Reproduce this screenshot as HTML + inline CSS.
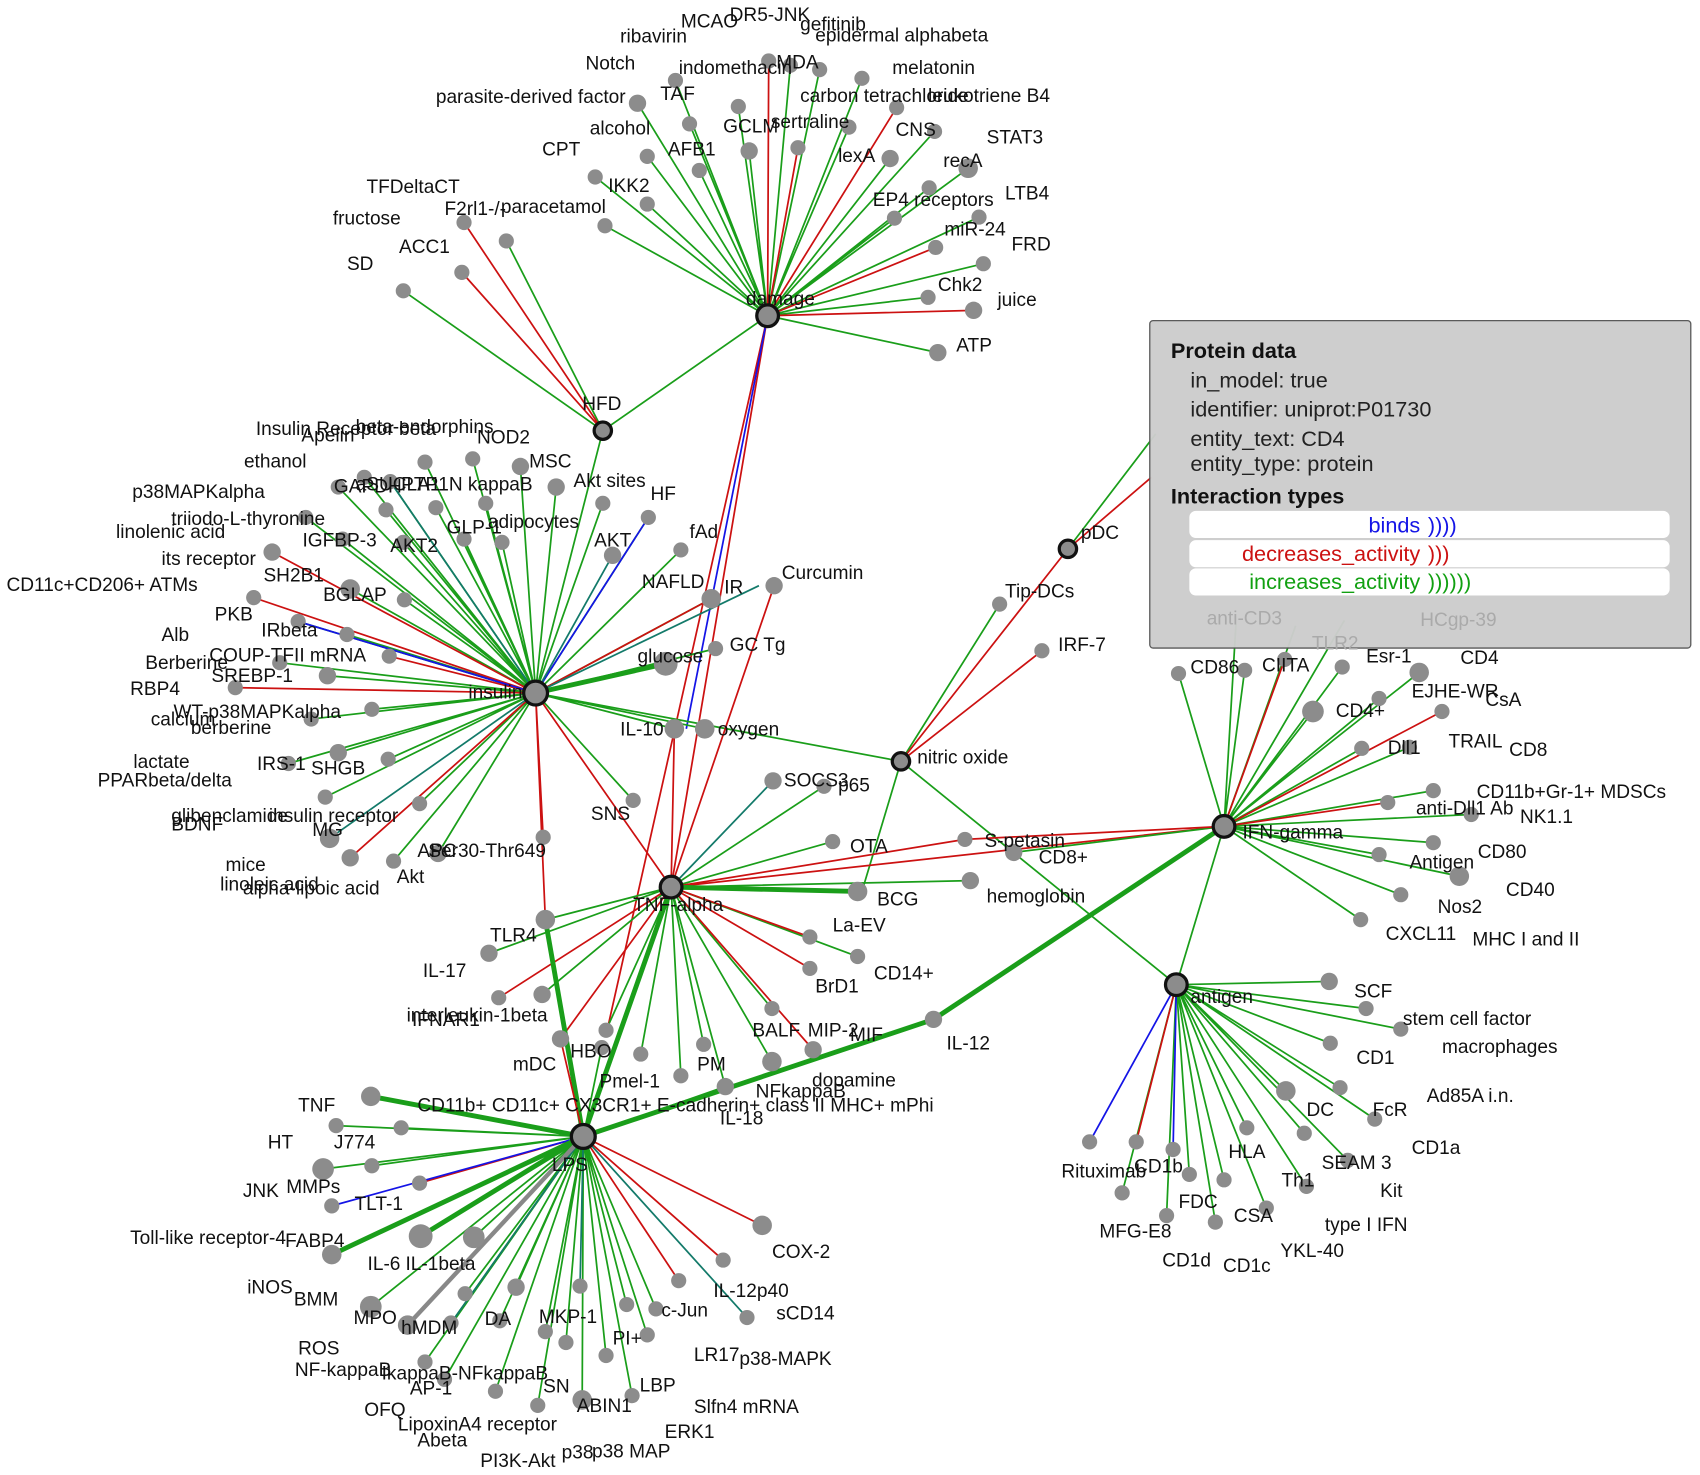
<!DOCTYPE html>
<html><head><meta charset="utf-8"><style>
html,body{margin:0;padding:0;background:#fff;}
svg{display:block;}
text{font-family:"Liberation Sans",Arial,sans-serif;font-size:17.6px;fill:#111;}
.g{stroke:#1a9e1a;stroke-width:1.6;fill:none}
.r{stroke:#cc1111;stroke-width:1.6;fill:none}
.b{stroke:#1414e6;stroke-width:1.6;fill:none}
.t{stroke:#137a6a;stroke-width:1.6;fill:none}
.G{stroke:#1a9e1a;stroke-width:4.5;fill:none}
.n circle{fill:#8c8c8c}
.h circle{fill:#8c8c8c;stroke:#111;stroke-width:3}
</style></head><body>
<svg width="1700" height="1475" viewBox="0 0 1568 1360" xmlns="http://www.w3.org/2000/svg">
<path class="g" d="M708 291L558 208M708 291L549 163M708 291L597 188M708 291L597 144M708 291L645 157M708 291L636 114M708 291L588 95M708 291L623 74M708 291L681 98M708 291L691 139M708 291L756 64M708 291L783 117M708 291L795 72M708 291L821 146M708 291L862 121M708 291L893 155M708 291L857 173M708 291L825 201M708 291L903 200M708 291L907 243M708 291L856 274M708 291L865 325M708 291L556 397M708 291L729 60"/>
<path class="r" d="M708 291L736 136M708 291L709 56M708 291L827 99M708 291L863 228M708 291L898 286M708 291L619 818M708 291L560 950"/>
<path class="b" d="M708 291L633 672"/>
<path class="g" d="M556 397L372 268M556 397L467 222M556 397L494 639"/>
<path class="r" d="M556 397L426 251M556 397L428 205"/>
<path class="g" d="M494 639L392 426M494 639L436 423M494 639L480 430M494 639L513 449M494 639L556 464M494 639L598 477M494 639L628 507M494 639L656 552M494 639L660 598M494 639L622 672M494 639L650 672M494 639L584 738M494 639L404 787M494 639L363 794M494 639L387 741M494 639L358 700M494 639L300 735M494 639L312 694M494 639L266 704M494 639L343 654M494 639L287 663M494 639L302 623M494 639L258 611M494 639L320 585M494 639L275 573M494 639L373 553M494 639L323 543M494 639L316 497M494 639L282 477M494 639L356 470M494 639L372 500M494 639L402 468M494 639L448 464M494 639L463 500M494 639L428 497M494 639L312 449M494 639L336 440M494 639L360 444M494 639L831 702"/>
<path class="r" d="M494 639L501 772M494 639L323 791M494 639L217 634M494 639L359 605M494 639L234 551M494 639L251 509M494 639L656 552M494 639L619 818M494 639L503 848"/>
<path class="b" d="M494 639L598 477M494 639L275 573"/>
<path class="t" d="M494 639L565 512M494 639L304 773M494 639L700 540M494 639L360 444"/>
<path class="G" d="M494 639L614 612"/>
<path class="g" d="M831 702L922 557M831 702L795 822M831 702L1085 908M985 506L1066 400"/>
<path class="r" d="M831 702L961 600M831 702L985 506M985 506L1062 440"/>
<path class="g" d="M619 818L768 776M619 818L895 812M619 818L791 882M619 818L712 930M619 818L712 979M619 818L649 963M619 818L628 992M619 818L591 972M619 818L559 950M619 818L500 917M619 818L451 879M619 818L503 848M619 818L669 1002M619 818L760 725"/>
<path class="r" d="M619 818L890 774M619 818L747 864M619 818L747 893M619 818L750 968M619 818L517 958M619 818L460 920M619 818L714 540M619 818L1129 762M619 818L622 672"/>
<path class="t" d="M619 818L713 720"/>
<path class="G" d="M619 818L791 822M619 818L538 1048M503 848L538 1048"/>
<path class="g" d="M538 1048L370 1040M538 1048L310 1038M538 1048L298 1078M538 1048L343 1075M538 1048L388 1140M538 1048L437 1141M538 1048L342 1205M538 1048L416 1220M538 1048L429 1193M538 1048L476 1187M538 1048L461 1218M538 1048L503 1228M538 1048L522 1238M538 1048L559 1250M538 1048L578 1203M538 1048L597 1231M538 1048L583 1287M538 1048L537 1291M538 1048L496 1296M538 1048L457 1283M538 1048L392 1256M538 1048L410 1272M538 1048L605 1207M538 1048L669 1002M538 1048L555 966"/>
<path class="r" d="M538 1048L387 1091M538 1048L626 1181M538 1048L667 1162M538 1048L703 1130M538 1048L517 958"/>
<path class="b" d="M538 1048L306 1112"/>
<path class="t" d="M538 1048L689 1215M538 1048L535 1186M538 1048L416 1220"/>
<path class="G" d="M538 1048L342 1011M538 1048L306 1157M538 1048L861 940L1129 762M538 1048L388 1140"/>
<path stroke="#888" stroke-width="4" d="M538 1048L376 1222"/>
<path class="g" d="M1129 762L1087 621M1129 762L1148 618M1129 762L1238 615M1129 762L1272 644M1129 762L1309 620M1129 762L1256 690M1129 762L1300 689M1129 762L1322 729M1129 762L1357 751M1129 762L1322 777M1129 762L1272 788M1129 762L1346 808M1129 762L1292 825M1129 762L1255 848M1129 762L1211 656M1129 762L1085 908M1129 762L935 786M1129 762L1140 575M1129 762L1195 577M1129 762L1240 572"/>
<path class="r" d="M1129 762L1185 608M1129 762L1330 656M1129 762L1280 740M1129 762L890 774"/>
<path class="g" d="M1085 908L1226 905M1085 908L1260 930M1085 908L1292 949M1085 908L1227 962M1085 908L1236 1003M1085 908L1186 1006M1085 908L1268 1032M1085 908L1203 1045M1085 908L1243 1070M1085 908L1205 1094M1085 908L1168 1114M1085 908L1121 1127M1085 908L1129 1088M1085 908L1097 1083M1085 908L1076 1121M1085 908L1035 1100M1085 908L1150 1040"/>
<path class="r" d="M1085 908L1048 1053"/>
<path class="b" d="M1085 908L1005 1053M1085 908L1082 1060"/>
<g class="n">
<circle cx="372" cy="268" r="7"/><circle cx="426" cy="251" r="7"/><circle cx="467" cy="222" r="7"/><circle cx="428" cy="205" r="7"/><circle cx="558" cy="208" r="7"/><circle cx="549" cy="163" r="7"/><circle cx="597" cy="188" r="7"/><circle cx="597" cy="144" r="7"/><circle cx="645" cy="157" r="7"/><circle cx="636" cy="114" r="7"/><circle cx="588" cy="95" r="8"/><circle cx="623" cy="74" r="7"/><circle cx="681" cy="98" r="7"/><circle cx="691" cy="139" r="8"/><circle cx="709" cy="56" r="7"/><circle cx="736" cy="136" r="7"/><circle cx="756" cy="64" r="7"/><circle cx="783" cy="117" r="7"/><circle cx="795" cy="72" r="7"/><circle cx="827" cy="99" r="7"/><circle cx="821" cy="146" r="8"/><circle cx="862" cy="121" r="7"/><circle cx="893" cy="155" r="9"/><circle cx="857" cy="173" r="7"/><circle cx="825" cy="201" r="7"/><circle cx="903" cy="200" r="7"/><circle cx="863" cy="228" r="7"/><circle cx="907" cy="243" r="7"/><circle cx="856" cy="274" r="7"/><circle cx="898" cy="286" r="8"/><circle cx="865" cy="325" r="8"/><circle cx="729" cy="60" r="7"/>
<circle cx="392" cy="426" r="7"/><circle cx="436" cy="423" r="7"/><circle cx="480" cy="430" r="8"/><circle cx="513" cy="449" r="8"/><circle cx="556" cy="464" r="7"/><circle cx="598" cy="477" r="7"/><circle cx="565" cy="512" r="8"/><circle cx="628" cy="507" r="7"/><circle cx="656" cy="552" r="9"/><circle cx="660" cy="598" r="7"/><circle cx="614" cy="612" r="11"/><circle cx="622" cy="672" r="9"/><circle cx="650" cy="672" r="9"/><circle cx="584" cy="738" r="7"/><circle cx="501" cy="772" r="7"/><circle cx="404" cy="787" r="8"/><circle cx="363" cy="794" r="7"/><circle cx="323" cy="791" r="8"/><circle cx="304" cy="773" r="9"/><circle cx="387" cy="741" r="7"/><circle cx="358" cy="700" r="7"/><circle cx="300" cy="735" r="7"/><circle cx="312" cy="694" r="8"/><circle cx="266" cy="704" r="7"/><circle cx="343" cy="654" r="7"/><circle cx="287" cy="663" r="7"/><circle cx="217" cy="634" r="7"/><circle cx="302" cy="623" r="8"/><circle cx="258" cy="611" r="7"/><circle cx="359" cy="605" r="7"/><circle cx="320" cy="585" r="7"/><circle cx="275" cy="573" r="7"/><circle cx="234" cy="551" r="7"/><circle cx="373" cy="553" r="7"/><circle cx="323" cy="543" r="9"/><circle cx="251" cy="509" r="8"/><circle cx="316" cy="497" r="7"/><circle cx="282" cy="477" r="7"/><circle cx="356" cy="470" r="7"/><circle cx="372" cy="500" r="7"/><circle cx="402" cy="468" r="7"/><circle cx="448" cy="464" r="7"/><circle cx="463" cy="500" r="7"/><circle cx="428" cy="497" r="7"/><circle cx="312" cy="449" r="7"/><circle cx="336" cy="440" r="7"/><circle cx="360" cy="444" r="7"/><circle cx="714" cy="540" r="8"/>
<circle cx="922" cy="557" r="7"/><circle cx="961" cy="600" r="7"/>
<circle cx="713" cy="720" r="8"/><circle cx="760" cy="725" r="7"/><circle cx="768" cy="776" r="7"/><circle cx="890" cy="774" r="7"/><circle cx="935" cy="786" r="8"/><circle cx="791" cy="822" r="9"/><circle cx="895" cy="812" r="8"/><circle cx="747" cy="864" r="7"/><circle cx="791" cy="882" r="7"/><circle cx="747" cy="893" r="7"/><circle cx="712" cy="930" r="7"/><circle cx="750" cy="968" r="8"/><circle cx="712" cy="979" r="9"/><circle cx="649" cy="963" r="7"/><circle cx="628" cy="992" r="7"/><circle cx="591" cy="972" r="7"/><circle cx="559" cy="950" r="7"/><circle cx="517" cy="958" r="8"/><circle cx="500" cy="917" r="8"/><circle cx="460" cy="920" r="7"/><circle cx="451" cy="879" r="8"/><circle cx="503" cy="848" r="9"/><circle cx="669" cy="1002" r="8"/><circle cx="861" cy="940" r="8"/><circle cx="555" cy="966" r="7"/>
<circle cx="342" cy="1011" r="9"/><circle cx="370" cy="1040" r="7"/><circle cx="310" cy="1038" r="7"/><circle cx="298" cy="1078" r="10"/><circle cx="343" cy="1075" r="7"/><circle cx="306" cy="1112" r="7"/><circle cx="387" cy="1091" r="7"/><circle cx="388" cy="1140" r="11"/><circle cx="437" cy="1141" r="10"/><circle cx="306" cy="1157" r="9"/><circle cx="342" cy="1205" r="10"/><circle cx="376" cy="1222" r="9"/><circle cx="416" cy="1220" r="7"/><circle cx="429" cy="1193" r="7"/><circle cx="476" cy="1187" r="8"/><circle cx="461" cy="1218" r="7"/><circle cx="503" cy="1228" r="7"/><circle cx="535" cy="1186" r="7"/><circle cx="522" cy="1238" r="7"/><circle cx="559" cy="1250" r="7"/><circle cx="578" cy="1203" r="7"/><circle cx="597" cy="1231" r="7"/><circle cx="583" cy="1287" r="7"/><circle cx="537" cy="1291" r="9"/><circle cx="496" cy="1296" r="7"/><circle cx="457" cy="1283" r="7"/><circle cx="392" cy="1256" r="7"/><circle cx="410" cy="1272" r="7"/><circle cx="626" cy="1181" r="7"/><circle cx="605" cy="1207" r="7"/><circle cx="689" cy="1215" r="7"/><circle cx="667" cy="1162" r="7"/><circle cx="703" cy="1130" r="9"/>
<circle cx="1087" cy="621" r="7"/><circle cx="1148" cy="618" r="7"/><circle cx="1185" cy="608" r="7"/><circle cx="1238" cy="615" r="7"/><circle cx="1272" cy="644" r="7"/><circle cx="1309" cy="620" r="9"/><circle cx="1330" cy="656" r="7"/><circle cx="1256" cy="690" r="7"/><circle cx="1300" cy="689" r="7"/><circle cx="1322" cy="729" r="7"/><circle cx="1280" cy="740" r="7"/><circle cx="1357" cy="751" r="7"/><circle cx="1322" cy="777" r="7"/><circle cx="1272" cy="788" r="7"/><circle cx="1346" cy="808" r="9"/><circle cx="1292" cy="825" r="7"/><circle cx="1255" cy="848" r="7"/><circle cx="1211" cy="656" r="10"/>
<circle cx="1226" cy="905" r="8"/><circle cx="1260" cy="930" r="7"/><circle cx="1292" cy="949" r="7"/><circle cx="1227" cy="962" r="7"/><circle cx="1236" cy="1003" r="7"/><circle cx="1186" cy="1006" r="9"/><circle cx="1268" cy="1032" r="7"/><circle cx="1203" cy="1045" r="7"/><circle cx="1243" cy="1070" r="7"/><circle cx="1205" cy="1094" r="7"/><circle cx="1168" cy="1114" r="7"/><circle cx="1121" cy="1127" r="7"/><circle cx="1129" cy="1088" r="7"/><circle cx="1097" cy="1083" r="7"/><circle cx="1076" cy="1121" r="7"/><circle cx="1048" cy="1053" r="7"/><circle cx="1035" cy="1100" r="7"/><circle cx="1005" cy="1053" r="7"/><circle cx="1082" cy="1060" r="7"/><circle cx="1150" cy="1040" r="7"/>
</g>
<g class="h">
<circle cx="708" cy="291" r="10"/><circle cx="556" cy="397" r="8"/><circle cx="494" cy="639" r="11"/><circle cx="985" cy="506" r="8"/><circle cx="831" cy="702" r="8"/><circle cx="1129" cy="762" r="10"/><circle cx="619" cy="818" r="10"/><circle cx="1085" cy="908" r="10"/><circle cx="538" cy="1048" r="11"/>
</g>
<g>
<text x="628" y="25">MCAO</text><text x="673" y="19">DR5-JNK</text><text x="572" y="39">ribavirin</text><text x="738" y="28">gefitinib</text><text x="752" y="38">epidermal alphabeta</text>
<text x="540" y="64">Notch</text><text x="626" y="68">indomethacin</text><text x="716" y="63">MDA</text><text x="823" y="68">melatonin</text>
<text x="402" y="95">parasite-derived factor</text><text x="609" y="92">TAF</text><text x="738" y="94">carbon tetrachloride</text><text x="856" y="94">leukotriene B4</text>
<text x="544" y="124">alcohol</text><text x="667" y="122">GCLM</text><text x="711" y="118">sertraline</text><text x="826" y="125">CNS</text><text x="910" y="132">STAT3</text>
<text x="500" y="143">CPT</text><text x="616" y="143">AFB1</text><text x="773" y="149">lexA</text><text x="870" y="154">recA</text>
<text x="338" y="178">TFDeltaCT</text><text x="561" y="177">IKK2</text><text x="805" y="190">EP4 receptors</text><text x="927" y="184">LTB4</text>
<text x="307" y="207">fructose</text><text x="410" y="198">F2rl1-/-</text><text x="462" y="196">paracetamol</text><text x="871" y="217">miR-24</text><text x="933" y="231">FRD</text>
<text x="368" y="233">ACC1</text><text x="320" y="249">SD</text><text x="865" y="268">Chk2</text><text x="920" y="282">juice</text><text x="688" y="281">damage</text><text x="882" y="324">ATP</text>
<text x="537" y="378">HFD</text>
<text x="236" y="401">Insulin Receptor beta</text><text x="278" y="407">Apelin</text><text x="328" y="399">beta-endorphins</text><text x="440" y="409">NOD2</text>
<text x="225" y="431">ethanol</text><text x="488" y="431">MSC</text><text x="122" y="459">p38MAPKalpha</text><text x="308" y="454">GAPDH</text><text x="328" y="452">aSUCLA1</text><text x="370" y="452">PTP1N kappaB</text><text x="529" y="449">Akt sites</text><text x="600" y="461">HF</text>
<text x="158" y="484">triiodo-L-thyronine</text><text x="107" y="496">linolenic acid</text><text x="412" y="492">GLP-1</text><text x="450" y="487">adipocytes</text><text x="636" y="496">fAd</text>
<text x="279" y="504">IGFBP-3</text><text x="360" y="509">AKT2</text><text x="548" y="504">AKT</text><text x="149" y="521">its receptor</text><text x="243" y="536">SH2B1</text><text x="721" y="534">Curcumin</text><text x="592" y="542">NAFLD</text><text x="668" y="547">IR</text>
<text x="6" y="545">CD11c+CD206+ ATMs</text><text x="298" y="554">BGLAP</text><text x="198" y="572">PKB</text><text x="241" y="587">IRbeta</text><text x="149" y="591">Alb</text>
<text x="193" y="610">COUP-TFII mRNA</text><text x="134" y="617">Berberine</text><text x="195" y="629">SREBP-1</text><text x="588" y="611">glucose</text><text x="673" y="600">GC Tg</text><text x="120" y="641">RBP4</text><text x="432" y="644">insulin</text>
<text x="160" y="662">WT-p38MAPKalpha</text><text x="139" y="669">calcium</text><text x="176" y="677">berberine</text><text x="572" y="678">IL-10</text><text x="662" y="678">oxygen</text><text x="846" y="704">nitric oxide</text>
<text x="123" y="708">lactate</text><text x="237" y="710">IRS-1</text><text x="90" y="725">PPARbeta/delta</text><text x="287" y="714">SHGB</text><text x="723" y="725">SOCS3</text><text x="773" y="730">p65</text>
<text x="158" y="758">glibenclamide</text><text x="158" y="766">BDNF</text><text x="248" y="758">insulin receptor</text><text x="288" y="771">MG</text><text x="545" y="756">SNS</text>
<text x="385" y="790">APC</text><text x="395" y="790">Ser30-Thr649</text><text x="784" y="786">OTA</text><text x="908" y="781">S-petasin</text><text x="958" y="796">CD8+</text>
<text x="208" y="803">mice</text><text x="203" y="821">linoleic acid</text><text x="224" y="825">alpha-lipoic acid</text><text x="366" y="814">Akt</text>
<text x="910" y="832">hemoglobin</text><text x="809" y="835">BCG</text><text x="584" y="840">TNF-alpha</text><text x="768" y="859">La-EV</text><text x="452" y="868">TLR4</text>
<text x="390" y="901">IL-17</text><text x="806" y="903">CD14+</text><text x="752" y="915">BrD1</text>
<text x="375" y="942">interleukin-1beta</text><text x="380" y="946">IFNAR1</text><text x="694" y="956">BALF</text><text x="745" y="956">MIP-2</text><text x="784" y="960">MIF</text><text x="873" y="968">IL-12</text>
<text x="473" y="987">mDC</text><text x="526" y="975">HBO</text><text x="643" y="987">PM</text><text x="553" y="1003">Pmel-1</text><text x="749" y="1002">dopamine</text><text x="697" y="1012">NFkappaB</text>
<text x="275" y="1025">TNF</text><text x="385" y="1025">CD11b+ CD11c+ CX3CR1+ E-cadherin+ class II MHC+ mPhi</text><text x="664" y="1037">IL-18</text>
<text x="247" y="1059">HT</text><text x="308" y="1059">J774</text><text x="509" y="1080">LPS</text>
<text x="224" y="1104">JNK</text><text x="264" y="1100">MMPs</text><text x="327" y="1116">TLT-1</text><text x="120" y="1147">Toll-like receptor-4</text><text x="263" y="1150">FABP4</text><text x="712" y="1160">COX-2</text>
<text x="339" y="1171">IL-6</text><text x="374" y="1171">IL-1beta</text><text x="658" y="1196">IL-12p40</text>
<text x="228" y="1193">iNOS</text><text x="271" y="1204">BMM</text><text x="326" y="1221">MPO</text><text x="370" y="1230">hMDM</text><text x="447" y="1222">DA</text><text x="497" y="1220">MKP-1</text><text x="610" y="1214">c-Jun</text><text x="716" y="1217">sCD14</text>
<text x="275" y="1249">ROS</text><text x="565" y="1240">PI+</text><text x="640" y="1255">LR17</text><text x="682" y="1259">p38-MAPK</text>
<text x="272" y="1269">NF-kappaB</text><text x="352" y="1272">IkappaB-NFkappaB</text><text x="378" y="1286">AP-1</text><text x="501" y="1284">SN</text><text x="590" y="1283">LBP</text>
<text x="336" y="1306">OFQ</text><text x="532" y="1302">ABIN1</text><text x="640" y="1303">Slfn4 mRNA</text>
<text x="367" y="1319">LipoxinA4 receptor</text><text x="385" y="1334">Abeta</text><text x="613" y="1326">ERK1</text><text x="443" y="1353">PI3K-Akt</text><text x="518" y="1345">p38</text><text x="546" y="1344">p38 MAP</text>
<text x="997" y="497">pDC</text><text x="927" y="551">Tip-DCs</text><text x="976" y="600">IRF-7</text>
<text x="1098" y="621">CD86</text><text x="1164" y="619">CIITA</text><text x="1260" y="611">Esr-1</text><text x="1347" y="612">CD4</text>
<text x="1302" y="643">EJHE-WR</text><text x="1370" y="651">CsA</text><text x="1232" y="661">CD4+</text><text x="1280" y="695">Dll1</text><text x="1336" y="689">TRAIL</text><text x="1392" y="697">CD8</text>
<text x="1362" y="736">CD11b+Gr-1+ MDSCs</text><text x="1306" y="751">anti-Dll1 Ab</text><text x="1402" y="759">NK1.1</text><text x="1146" y="773">IFN-gamma</text>
<text x="1363" y="791">CD80</text><text x="1300" y="801">Antigen</text><text x="1389" y="826">CD40</text><text x="1326" y="842">Nos2</text><text x="1278" y="867">CXCL11</text><text x="1358" y="872">MHC I and II</text>
<text x="1249" y="920">SCF</text><text x="1098" y="925">antigen</text><text x="1294" y="945">stem cell factor</text><text x="1330" y="971">macrophages</text>
<text x="1251" y="981">CD1</text><text x="1316" y="1016">Ad85A i.n.</text><text x="1205" y="1029">DC</text><text x="1266" y="1029">FcR</text>
<text x="1302" y="1064">CD1a</text><text x="1133" y="1068">HLA</text><text x="1219" y="1078">SEAM 3</text><text x="979" y="1086">Rituximab</text><text x="1046" y="1081">CD1b</text><text x="1182" y="1094">Th1</text><text x="1273" y="1104">Kit</text>
<text x="1087" y="1114">FDC</text><text x="1138" y="1127">CSA</text><text x="1014" y="1141">MFG-E8</text><text x="1222" y="1135">type I IFN</text><text x="1072" y="1168">CD1d</text><text x="1128" y="1173">CD1c</text><text x="1181" y="1159">YKL-40</text>
</g>
<rect x="1060.5" y="295.5" width="499" height="302" rx="3" fill="#cdcdcd" stroke="#555" stroke-width="1.2" opacity="0.97"/>
<text x="1080" y="330" style="font-weight:bold;font-size:20px">Protein data</text>
<text x="1098" y="357" style="font-size:20px;fill:#222">in_model: true</text>
<text x="1098" y="384" style="font-size:20px;fill:#222">identifier: uniprot:P01730</text>
<text x="1098" y="411" style="font-size:20px;fill:#222">entity_text: CD4</text>
<text x="1098" y="434" style="font-size:20px;fill:#222">entity_type: protein</text>
<text x="1080" y="464" style="font-weight:bold;font-size:20px">Interaction types</text>
<rect x="1097" y="471" width="443" height="25" rx="6" fill="#fff"/>
<rect x="1097" y="498" width="443" height="25" rx="6" fill="#fff"/>
<rect x="1097" y="524" width="443" height="25" rx="6" fill="#fff"/>
<text x="1310" y="491" text-anchor="end" style="font-size:20px;fill:#1414e6">binds</text><text x="1317" y="491" style="font-size:20px;fill:#1414e6">))))</text>
<text x="1310" y="517" text-anchor="end" style="font-size:20px;fill:#cc1111">decreases_activity</text><text x="1317" y="517" style="font-size:20px;fill:#cc1111">)))</text>
<text x="1310" y="543" text-anchor="end" style="font-size:20px;fill:#11a011">increases_activity</text><text x="1317" y="543" style="font-size:20px;fill:#11a011">))))))</text>
<text x="1113" y="576" style="fill:#aaa">anti-CD3</text><text x="1310" y="577" style="fill:#aaa">HCgp-39</text><text x="1210" y="599" style="fill:#aaa">TLR2</text>
</svg>
</body></html>
